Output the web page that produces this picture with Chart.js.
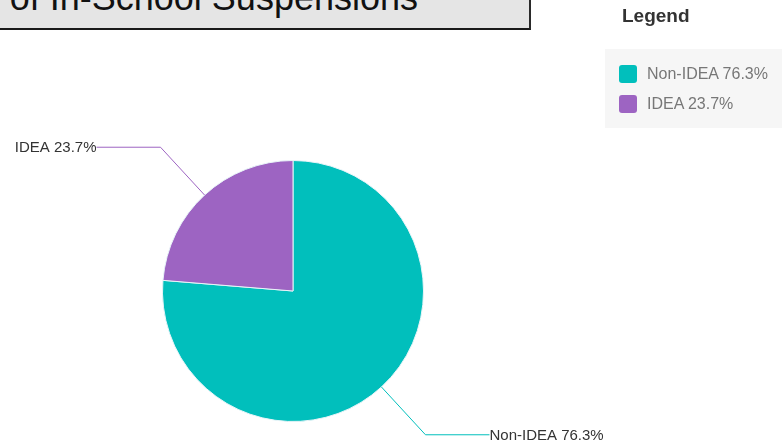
<!DOCTYPE html>
<html>
<head>
<meta charset="utf-8">
<script src="https://cdn.jsdelivr.net/npm/chart.js@4"></script>
<style>
  body { margin: 0; background: #fff; overflow: hidden; font-family: "Liberation Sans", Arial, sans-serif; }
  #wrap { position: relative; width: 782px; height: 443px; overflow: hidden; }
  #pie { position: absolute; left: 0; top: 0; }
  #titleBox {
    position: absolute; left: -300px; top: -30px; width: 828px; height: 57px;
    background: #e5e5e5; border: 1px solid #333; border-bottom: 2px solid #1a1a1a; border-right: 2px solid #2a2a2a;
  }
  #titleBox span {
    position: absolute; right: 111px; top: 9px; font-size: 36px; line-height: 36px; color: #111; white-space: nowrap;
  }
  #legendTitle { position: absolute; left: 622px; top: 5px; font-size: 19px; font-weight: bold; color: #333; }
  #legendPanel { position: absolute; left: 605px; top: 49px; width: 177px; height: 79px; background: #f6f6f6; }
  .item { position: absolute; left: 14px; height: 20px; font-size: 16px; color: #777; line-height: 20px; white-space: nowrap; }
  .item i { position: absolute; left: 0; top: 1px; width: 18px; height: 18px; border-radius: 3px; }
  .item b { position: absolute; left: 28px; top: 0; font-weight: normal; }
</style>
</head>
<body>
<div id="wrap">
  <canvas id="pie" width="782" height="443"></canvas>
  <div id="titleBox"><span>Percentage of In-School Suspensions</span></div>
  <div id="legendTitle">Legend</div>
  <div id="legendPanel"></div>
</div>
<script>
const categories = ['Non-IDEA', 'IDEA'];
const percents = [76.3, 23.7];
const sliceColors = ['#01bfbc', '#9d64c2'];

// HTML legend built from the same arrays
const panel = document.getElementById('legendPanel');
categories.forEach((name, i) => {
    const row = document.createElement('div');
    row.className = 'item';
    row.style.top = (15 + i * 30) + 'px';
    row.innerHTML = '<i style="background:' + sliceColors[i] + '"></i><b>' + name + ' ' + percents[i] + '%</b>';
    panel.appendChild(row);
});

// leader lines with labels outside the pie
const leaderLabels = {
    id: 'leaderLabels',
    afterDraw(chart) {
        const { ctx } = chart;
        const meta = chart.getDatasetMeta(0);
        meta.data.forEach((arc, i) => {
            const { x, y, outerRadius, startAngle, endAngle } = arc.getProps(['x', 'y', 'outerRadius', 'startAngle', 'endAngle'], true);
            const mid = (startAngle + endAngle) / 2;
            const cx = Math.cos(mid), cy = Math.sin(mid);
            const x0 = x + cx * outerRadius, y0 = y + cy * outerRadius;
            const x1 = x + cx * (outerRadius + 65), y1 = y + cy * (outerRadius + 65);
            const right = cx >= 0;
            const x2 = x1 + (right ? 64 : -64);

            ctx.save();
            ctx.strokeStyle = sliceColors[i];
            ctx.lineWidth = 1;
            ctx.beginPath();
            ctx.moveTo(x0, y0);
            ctx.lineTo(x1, y1);
            ctx.lineTo(x2, y1);
            ctx.stroke();

            ctx.fillStyle = '#333';
            ctx.font = '15px "Liberation Sans", Arial, sans-serif';
            ctx.textBaseline = 'middle';
            ctx.textAlign = right ? 'left' : 'right';
            ctx.fillText(categories[i] + ' ' + percents[i] + '%', x2, y1 + 1);
            ctx.restore();
        });
    },
};

new Chart(document.getElementById('pie'), {
    type: 'pie',
    data: {
        labels: categories,
        datasets: [{
            data: percents,
            backgroundColor: sliceColors,
            borderColor: '#e8f4f8',
            borderWidth: 1,
        }],
    },
    options: {
        responsive: false,
        animation: false,
        layout: { padding: { left: 162, right: 358, top: 160, bottom: 21 } },
        plugins: {
            legend: { display: false },
            tooltip: { enabled: false },
        },
    },
    plugins: [leaderLabels],
});
</script>
</body>
</html>
